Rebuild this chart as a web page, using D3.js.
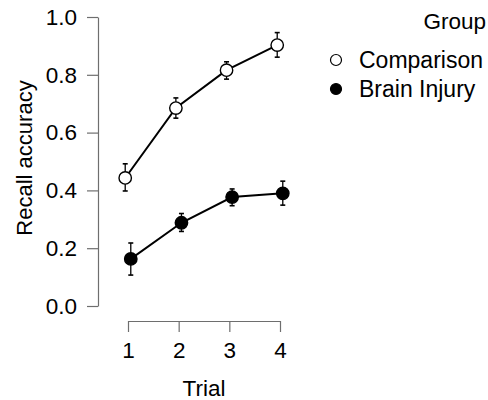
<!DOCTYPE html>
<html>
<head>
<meta charset="utf-8">
<script src="https://cdn.jsdelivr.net/npm/d3@7"></script>
<style>
  body { margin: 0; background: #fff; }
  text { font-family: "Liberation Sans", Arial, sans-serif; fill: #000; }
</style>
</head>
<body>
<div id="container"></div>
<script>
/* DATA */
const trials = [1, 2, 3, 4];
const groups = ["Comparison", "Brain Injury"];
const comparisonMean  = [0.443, 0.685, 0.816, 0.903];
const comparisonLower = [0.398, 0.650, 0.785, 0.861];
const comparisonUpper = [0.492, 0.720, 0.845, 0.946];
const injuryMean  = [0.163, 0.288, 0.377, 0.390];
const injuryLower = [0.107, 0.258, 0.347, 0.349];
const injuryUpper = [0.218, 0.320, 0.405, 0.432];
const yTicks = [0, 0.2, 0.4, 0.6, 0.8, 1.0];

/* CONSTANTS */
const width = 488;
const height = 400;
const dodge = 0.055;   // horizontal offset of each group, in trial units
const radius = 6.2;
const axisColor = "#6e6e6e";

const series = [
  { name: groups[0], fill: "#fff", offset: -dodge,
    values: trials.map((t, i) => ({ t, m: comparisonMean[i], lo: comparisonLower[i], hi: comparisonUpper[i] })) },
  { name: groups[1], fill: "#000", offset: dodge,
    values: trials.map((t, i) => ({ t, m: injuryMean[i], lo: injuryLower[i], hi: injuryUpper[i] })) }
];

/* SCALES */
const xScale = d3.scaleLinear().domain([1, 4]).range([128, 280]);
const yScale = d3.scaleLinear().domain([0, 1]).range([306, 17]);

const svg = d3.select("#container")
  .append("svg")
  .attr("width", width)
  .attr("height", height);

/* AXES */
const yAxis = svg.append("g")
  .attr("transform", "translate(98,0)")
  .call(d3.axisLeft(yScale).tickValues(yTicks).tickFormat(d3.format(".1f"))
    .tickSize(11).tickSizeOuter(0).tickPadding(10));

const xAxis = svg.append("g")
  .attr("transform", "translate(0,321)")
  .call(d3.axisBottom(xScale).tickValues(trials).tickFormat(d3.format("d"))
    .tickSize(11).tickSizeOuter(0).tickPadding(10));

[yAxis, xAxis].forEach(g => {
  g.attr("font-size", null).attr("font-family", null);
  g.select(".domain").attr("stroke", axisColor).attr("stroke-width", 1.2);
  g.selectAll(".tick line").attr("stroke", axisColor).attr("stroke-width", 1.2);
  g.selectAll(".tick text")
    .attr("fill", "#000")
    .style("font-size", "22.5px");
});

svg.append("text")
  .attr("transform", "translate(32,158) rotate(-90)")
  .attr("text-anchor", "middle")
  .style("font-size", "22px")
  .text("Recall accuracy");

svg.append("text")
  .attr("x", 204)
  .attr("y", 396)
  .attr("text-anchor", "middle")
  .style("font-size", "22.5px")
  .text("Trial");

/* LINES */
const line = d3.line();
series.forEach(s => {
  svg.append("path")
    .attr("d", line(s.values.map(d => [xScale(d.t + s.offset), yScale(d.m)])))
    .attr("fill", "none")
    .attr("stroke", "#000")
    .attr("stroke-width", 2);
});

/* ERROR BARS */
series.forEach(s => {
  const g = svg.append("g").attr("stroke", "#000").attr("stroke-width", 1.3);
  s.values.forEach(d => {
    const cx = xScale(d.t + s.offset);
    g.append("line").attr("x1", cx).attr("x2", cx)
      .attr("y1", yScale(d.lo)).attr("y2", yScale(d.hi));
    [d.lo, d.hi].forEach(v => {
      g.append("line").attr("x1", cx - 2.5).attr("x2", cx + 2.5)
        .attr("y1", yScale(v)).attr("y2", yScale(v)).attr("stroke-width", 1.6);
    });
  });
});

/* POINTS */
series.forEach(s => {
  svg.selectAll(null)
    .data(s.values)
    .join("circle")
    .attr("cx", d => xScale(d.t + s.offset))
    .attr("cy", d => yScale(d.m))
    .attr("r", radius)
    .attr("fill", s.fill)
    .attr("stroke", "#000")
    .attr("stroke-width", 1.4);
});

/* LEGEND */
svg.append("text")
  .attr("x", 486)
  .attr("y", 29)
  .attr("text-anchor", "end")
  .style("font-size", "22.5px")
  .text("Group");

const legend = svg.selectAll(".legend")
  .data(series)
  .join("g")
  .attr("class", "legend")
  .attr("transform", (d, i) => `translate(336,${60 + i * 29})`);

legend.append("circle")
  .attr("r", 5.5)
  .attr("fill", d => d.fill)
  .attr("stroke", "#000")
  .attr("stroke-width", 1.2);

legend.append("text")
  .attr("x", 23)
  .attr("y", 7.5)
  .style("font-size", "23px")
  .text(d => d.name);
</script>
</body>
</html>
